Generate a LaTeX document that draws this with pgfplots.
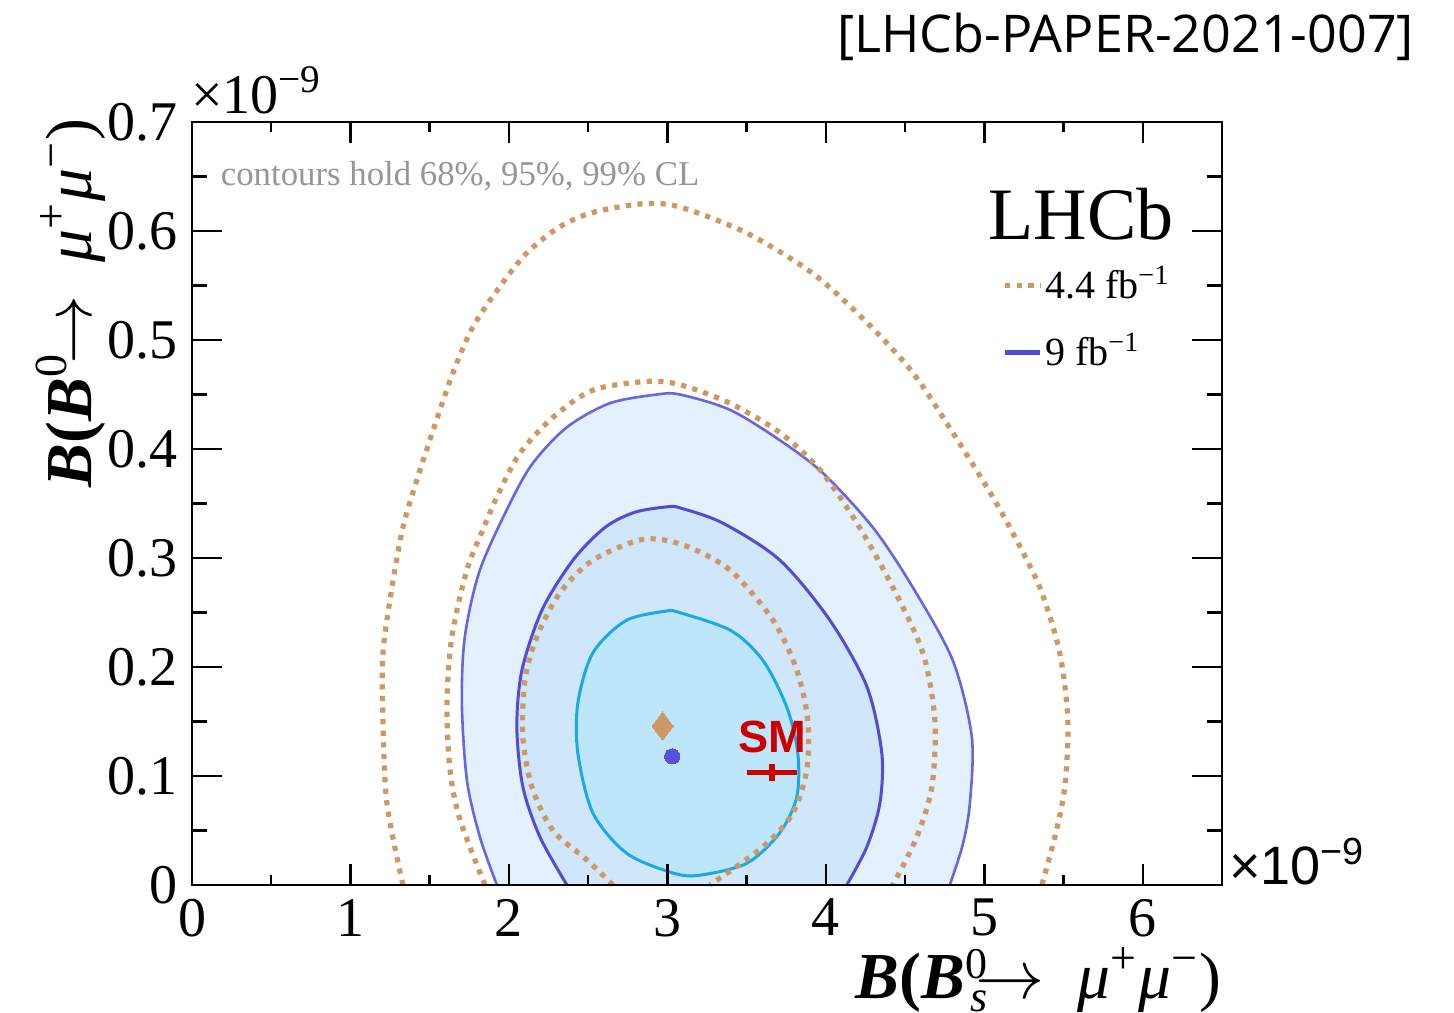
\documentclass[border=0pt]{standalone}
\usepackage{fontspec}
\setmainfont{Liberation Serif}
\setsansfont{Liberation Sans}
\newfontfamily\hdrfont{Open Sans}
\usepackage{pgfplots}
\pgfplotsset{compat=1.18}
\definecolor{tanc}{RGB}{206,152,98}
\definecolor{fillA}{RGB}{227,240,253}
\definecolor{fillB}{RGB}{208,230,251}
\definecolor{fillC}{RGB}{189,230,250}
\definecolor{lineA}{RGB}{105,100,225}
\definecolor{lineB}{RGB}{85,75,210}
\definecolor{lineC}{RGB}{25,170,230}
\definecolor{dotc}{RGB}{90,80,220}
\definecolor{smred}{RGB}{204,0,0}
\definecolor{graytxt}{RGB}{150,150,150}
\tikzset{dotted44/.style={color=tanc, line width=1.3pt, dash pattern=on 1.3pt off 1.6pt}}
\pgfplotstableread{
x y
1.924 0
1.817 0.044
1.735 0.096
1.703 0.167
1.722 0.228
1.817 0.289
2.006 0.350
2.151 0.387
2.366 0.420
2.637 0.442
2.934 0.450
3.079 0.450
3.394 0.436
3.710 0.408
3.981 0.378
4.297 0.328
4.549 0.273
4.801 0.206
4.921 0.136
4.909 0.075
4.864 0.037
4.782 0
}\ninetyninenine
\pgfplotstableread{
x y
2.366 0
2.196 0.044
2.088 0.090
2.050 0.145
2.082 0.197
2.208 0.252
2.404 0.298
2.606 0.328
2.795 0.342
3.003 0.347
3.079 0.346
3.350 0.332
3.710 0.298
4.025 0.243
4.259 0.182
4.353 0.121
4.341 0.075
4.259 0.035
4.132 0
}\ninetyfivenine
\pgfplotstableread{
x y
3.028 0.252
3.394 0.234
3.603 0.206
3.754 0.163
3.823 0.121
3.817 0.081
3.710 0.048
3.502 0.020
3.205 0.009
3.035 0.011
2.744 0.029
2.530 0.066
2.435 0.121
2.435 0.167
2.530 0.213
2.744 0.243
3.028 0.252
}\sixtyeightnine
\newcommand{\supsub}[2]{\raisebox{5pt}{\fontsize{11}{11}\selectfont #1}\llap{\raisebox{-3.2pt}{\fontsize{11}{11}\selectfont\textit{#2}}}}
\begin{document}
\begin{tikzpicture}
\path[use as bounding box] (-48pt,-32pt) rectangle (315.5pt,221.25pt);
\begin{axis}[
  scale only axis, width=257.5pt, height=190.75pt,
  xmin=0, xmax=6.5, ymin=0, ymax=0.7,
  xtick={0,1,2,3,4,5,6}, minor x tick num=1,
  ytick={0,0.1,0.2,0.3,0.4,0.5,0.6,0.7}, minor y tick num=1,
  tick align=inside, tick pos=both,
  axis on top, clip=false,
  axis line style={line width=0.7pt},
  major tick style={line width=0.6pt, black},
  minor tick style={line width=0.6pt, black},
  major tick length=7.5pt, minor tick length=3.75pt,
  xtick style={/pgfplots/major tick length=5.25pt, /pgfplots/minor tick length=2.6pt},
  scaled ticks=false,
  /pgf/number format/assume math mode=true,
  ticklabel style={font=\fontsize{14}{14}\selectfont},
  yticklabel style={/pgf/number format/fixed, /pgf/number format/precision=1},
  xlabel={\textbf{\textit{B}}\textbf{(}\textbf{\textit{B}}\supsub{0}{s}$\!\rightarrow$\ \ \textit{μ}\textsuperscript{+}\textit{μ}\textsuperscript{−})},
  ylabel={\textbf{\textit{B}}\textbf{(}\textbf{\textit{B}}\textsuperscript{0}$\!\rightarrow$\ \ \textit{μ}\textsuperscript{+}\textit{μ}\textsuperscript{−})},
  xlabel style={font=\fontsize{16.4}{16.4}\selectfont, at={(axis description cs:1,-0.125)}, anchor=east, inner sep=0pt},
  ylabel style={font=\fontsize{16.4}{16.4}\selectfont, at={(axis description cs:-0.118,1.005)}, anchor=east, inner sep=0pt},
  legend style={at={(axis cs:5.11,0.571)}, anchor=north west, draw=none, fill=none,
    font=\fontsize{10}{12}\selectfont, row sep=5.8pt, inner sep=0pt,
    nodes={inner sep=0.6pt}, cells={anchor=west}},
  legend image code/.code={\draw[#1] (0pt,0pt) -- (8.75pt,0pt);},
]
% fills of the 9 fb^-1 contours
\addplot[fill=fillA, draw=none, smooth, forget plot] table {\ninetyninenine} \closedcycle;
\addplot[fill=fillB, draw=none, smooth, forget plot] table {\ninetyfivenine} \closedcycle;
\addplot[fill=fillC, draw=none, smooth, forget plot] table {\sixtyeightnine};
% lines of the 9 fb^-1 contours
\addplot[lineA, line width=0.65pt, smooth, forget plot] table {\ninetyninenine};
\addplot[lineB, line width=0.75pt, smooth, forget plot] table {\ninetyfivenine};
\addplot[lineC, line width=0.75pt, smooth, forget plot] table {\sixtyeightnine};
% 4.4 fb^-1 dotted contours
\addplot[dotted44, smooth, forget plot] coordinates {
(2.656,0) (2.492,0.023) (2.278,0.050) (2.145,0.090) (2.088,0.136) (2.101,0.188) (2.177,0.228) (2.322,0.268) (2.530,0.298) (2.845,0.317) (3.098,0.312) (3.394,0.289) (3.666,0.243) (3.817,0.197) (3.886,0.151) (3.880,0.106) (3.792,0.066) (3.603,0.035) (3.268,0)
};
\addplot[dotted44, smooth, forget plot] coordinates {
(1.849,0) (1.691,0.060) (1.628,0.106) (1.609,0.167) (1.640,0.228) (1.735,0.289) (1.836,0.326) (1.924,0.356) (2.069,0.396) (2.278,0.429) (2.530,0.454) (2.871,0.462) (3.079,0.459) (3.394,0.442) (3.710,0.415) (3.962,0.381) (4.196,0.332) (4.423,0.273) (4.612,0.213) (4.688,0.151) (4.669,0.090) (4.574,0.044) (4.423,0)
};
\addplot[dotted44, smooth, forget plot] coordinates {
(1.331,0) (1.230,0.075) (1.205,0.151) (1.205,0.213) (1.262,0.273) (1.331,0.328) (1.420,0.372) (1.521,0.417) (1.647,0.470) (1.773,0.512) (1.943,0.549) (2.114,0.580) (2.322,0.604) (2.530,0.617) (2.845,0.625) (3.079,0.622) (3.502,0.598) (3.918,0.561) (4.259,0.516) (4.549,0.470) (4.801,0.415) (5.016,0.365) (5.161,0.328) (5.350,0.273) (5.476,0.213) (5.527,0.151) (5.508,0.090) (5.445,0.044) (5.363,0)
};
% best fit points
\addplot[only marks, color=tanc, mark=diamond*, mark size=3.5pt, mark options={solid, draw=tanc, fill=tanc, line width=0pt}, forget plot] coordinates {(2.97,0.146)};
\addplot[only marks, color=dotc, mark=*, mark size=1.9pt, mark options={solid, draw=dotc, fill=dotc, line width=0pt}, forget plot] coordinates {(3.03,0.118)};
% SM prediction
\addplot[draw=none, mark=none, forget plot,
  error bars/.cd, x dir=both, x explicit, y dir=both, y explicit,
  error mark=none, error bar style={smred, line width=1.3pt}]
  coordinates {(3.66,0.103) +- (0.155,0.008)};
\node[font=\sffamily\bfseries\fontsize{11.3}{12}\selectfont, text=smred, anchor=base, inner sep=0pt] at (axis cs:3.66,0.122) {SM};
% legend
\addlegendimage{dotted44}
\addlegendentry{4.4 fb\textsuperscript{−1}}
\addlegendimage{color=lineB, line width=1.25pt}
\addlegendentry{9 fb\textsuperscript{−1}}
% texts
\node[font=\fontsize{18.5}{18.5}\selectfont, anchor=base east, inner sep=0pt] at (axis cs:6.2,0.592) {LHCb};
\node[font=\fontsize{8.7}{9}\selectfont, text=graytxt, anchor=base west, inner sep=0pt] at (axis cs:0.177,0.642) {contours hold 68\%, 95\%, 99\% CL};
\node[font=\fontsize{14}{14}\selectfont, anchor=base west, inner sep=0pt] at (axis cs:-0.01,0.708) {×10\textsuperscript{−9}};
\node[font=\sffamily\fontsize{13.5}{13.5}\selectfont, anchor=base west, inner sep=0pt] at (axis cs:6.54,0.0) {×10\textsuperscript{−9}};
\node[font=\hdrfont\fontsize{13}{13}\selectfont, anchor=base east, inner sep=0pt] at (axis cs:7.716,0.764) {[LHCb-PAPER-2021-007]};
\end{axis}
\end{tikzpicture}
\end{document}
